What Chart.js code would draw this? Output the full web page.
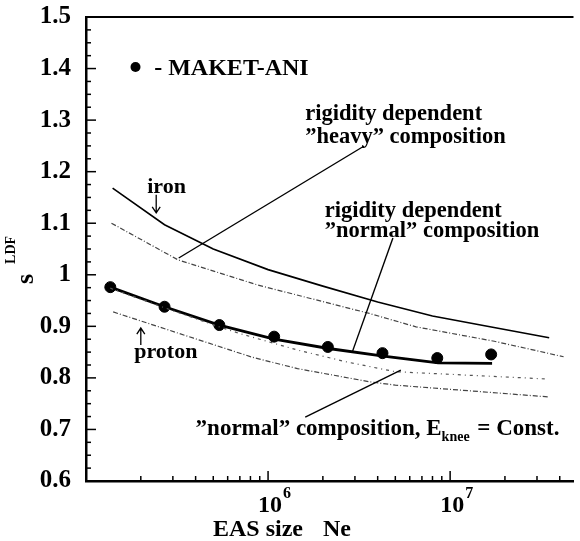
<!DOCTYPE html>
<html>
<head>
<meta charset="utf-8">
<script src="https://cdn.jsdelivr.net/npm/chart.js@4.4.0/dist/chart.umd.min.js"></script>
<style>
    body { margin: 0; background: #fff; }
    #box { width: 580px; height: 541px; }
</style>
</head>
<body>
<div id="box"><canvas id="ldfChart"></canvas></div>
<script>
// s_LDF versus EAS size, MAKET-ANI points and model curves
const maketNe = [1.36e5, 2.7e5, 5.4e5, 1.08e6, 2.13e6, 4.25e6, 8.5e6, 1.68e7];
const maketS = [0.976, 0.938, 0.9025, 0.880, 0.860, 0.848, 0.8385, 0.8455];

const ironNe = [1.4e5, 2.7e5, 5e5, 1e6, 2e6, 4e6, 8e6, 1.6e7, 3.5e7];
const ironS = [1.168, 1.097, 1.05, 1.01, 0.978, 0.947, 0.920, 0.900, 0.878];

const heavyNe = [1.38e5, 3.2e5, 8.8e5, 3.6e6, 6.5e6, 1.75e7, 4.2e7];
const heavyS = [1.10, 1.029, 0.98, 0.925, 0.899, 0.871, 0.841];

const normalNe = [1.36e5, 2.7e5, 5.4e5, 1.08e6, 2.15e6, 4.3e6, 8.6e6, 1.7e7];
const normalS = [0.976, 0.938, 0.9025, 0.8754, 0.857, 0.842, 0.829, 0.828];

const kneeNe = [1.36e5, 2.7e5, 5.4e5, 7e5, 1.45e6, 2.7e6, 5e6, 3.35e7];
const kneeS = [0.974, 0.936, 0.899, 0.886, 0.854, 0.831, 0.812, 0.798];

const protonNe = [1.41e5, 3.9e5, 8.2e5, 1.45e6, 3.6e6, 5e6, 3.5e7];
const protonS = [0.928, 0.877, 0.840, 0.818, 0.7925, 0.786, 0.763];

const xDecades = [6, 7];
const yTickStep = 0.1;

const FONT = 'Liberation Serif';

const toPoints = (xs, ys) => xs.map((x, i) => ({x: x, y: ys[i]}));

// text labels, anchored in data units (Ne, s)
const notes = [
    {text: '- MAKET-ANI', ne: 2.37e5, s: 1.3875, size: 24},
    {text: 'rigidity dependent', ne: 1.6e6, s: 1.30, size: 22.5},
    {text: '\u201Dheavy\u201D composition', ne: 1.6e6, s: 1.2556, size: 22.5},
    {text: 'rigidity dependent', ne: 2.05e6, s: 1.112, size: 22.5},
    {text: '\u201Dnormal\u201D composition', ne: 2.05e6, s: 1.0732, size: 22.5},
    {text: 'iron', ne: 2.17e5, s: 1.1586, size: 22},
    {text: 'proton', ne: 1.84e5, s: 0.8385, size: 22}
];

// leader lines from labels to curves
const leaders = [
    [3.37e6, 1.2498, 3.23e5, 1.0325],
    [4.85e6, 1.0713, 2.9e6, 0.850],
    [1.6e6, 0.724, 5.36e6, 0.815]
];

// small arrows: [ne, from s, to s] (head at "to")
const arrows = [
    [2.43e5, 1.155, 1.12],
    [2.0e5, 0.8637, 0.8967]
];

const decor = {
    id: 'decor',
    afterDraw(chart) {
        const {ctx, chartArea: area, scales: {x, y}} = chart;
        const px = v => x.getPixelForValue(v);
        const py = v => y.getPixelForValue(v);

        ctx.save();
        ctx.strokeStyle = '#000';
        ctx.fillStyle = '#000';

        // top frame line
        ctx.lineWidth = 2;
        ctx.beginPath();
        ctx.moveTo(area.left, area.top);
        ctx.lineTo(area.right, area.top);
        ctx.stroke();

        // inward ticks on the y axis
        ctx.lineWidth = 1.5;
        for (let i = 0; i <= 36; i++) {
            const yy = py(0.6 + i * 0.025);
            const len = i % 4 === 0 ? 10 : 5;
            ctx.beginPath();
            ctx.moveTo(area.left, yy);
            ctx.lineTo(area.left + len, yy);
            ctx.stroke();
        }

        // inward ticks on the log x axis
        for (let d = 5; d <= 7; d++) {
            for (let k = 1; k <= 9; k++) {
                const v = k * Math.pow(10, d);
                if (v <= x.min || v > x.max) continue;
                const xx = px(v);
                const len = k === 1 ? 10 : 5;
                ctx.beginPath();
                ctx.moveTo(xx, area.bottom);
                ctx.lineTo(xx, area.bottom - len);
                ctx.stroke();
            }
        }

        // decade labels 10^6, 10^7
        ctx.textBaseline = 'alphabetic';
        xDecades.forEach(d => {
            const xx = px(Math.pow(10, d));
            ctx.font = 'bold 24px ' + FONT;
            ctx.textAlign = 'center';
            ctx.fillText('10', xx + 2, area.bottom + 31);
            ctx.font = 'bold 16px ' + FONT;
            ctx.textAlign = 'left';
            ctx.fillText(String(d), xx + 15, area.bottom + 17);
        });

        // x axis title
        ctx.font = 'bold 24px ' + FONT;
        ctx.textAlign = 'left';
        ctx.fillText('EAS size', 213, 536);
        ctx.fillText('Ne', 323, 536);

        // y axis title, s with LDF superscript
        ctx.save();
        ctx.translate(33, 284);
        ctx.rotate(-Math.PI / 2);
        ctx.font = 'bold 26px ' + FONT;
        ctx.textAlign = 'left';
        ctx.fillText('s', 0, 0);
        const sw = ctx.measureText('s').width;
        ctx.font = 'bold 14px ' + FONT;
        ctx.fillText('LDF', sw + 10, -18);
        ctx.restore();

        // labels
        ctx.textAlign = 'left';
        notes.forEach(n => {
            ctx.font = 'bold ' + n.size + 'px ' + FONT;
            ctx.fillText(n.text, px(n.ne), py(n.s));
        });

        // "normal" composition, E_knee = Const.
        let cx = px(4.0e5);
        const cy = py(0.689);
        ctx.font = 'bold 23px ' + FONT;
        const head = '\u201Dnormal\u201D composition, E';
        ctx.fillText(head, cx, cy);
        cx += ctx.measureText(head).width;
        ctx.font = 'bold 14px ' + FONT;
        ctx.fillText('knee', cx, cy + 6);
        cx += ctx.measureText('knee').width + 2;
        ctx.font = 'bold 23px ' + FONT;
        ctx.fillText(' = Const.', cx, cy);

        // legend marker
        ctx.beginPath();
        ctx.arc(px(1.87e5), py(1.403), 5, 0, Math.PI * 2);
        ctx.fill();

        // leader lines
        ctx.lineWidth = 1.4;
        leaders.forEach(l => {
            ctx.beginPath();
            ctx.moveTo(px(l[0]), py(l[1]));
            ctx.lineTo(px(l[2]), py(l[3]));
            ctx.stroke();
        });

        // arrows
        ctx.lineWidth = 1.3;
        arrows.forEach(a => {
            const ax = px(a[0]);
            const y0 = py(a[1]);
            const y1 = py(a[2]);
            const dir = y1 > y0 ? 1 : -1;
            ctx.beginPath();
            ctx.moveTo(ax, y0);
            ctx.lineTo(ax, y1);
            ctx.moveTo(ax - 4, y1 - dir * 6);
            ctx.lineTo(ax, y1);
            ctx.lineTo(ax + 4, y1 - dir * 6);
            ctx.stroke();
        });

        ctx.restore();
    }
};

const lineSet = (label, xs, ys, color, width, dash) => ({
    label: label,
    data: toPoints(xs, ys),
    borderColor: color,
    borderWidth: width,
    borderDash: dash,
    pointRadius: 0,
    tension: 0,
    fill: false
});

new Chart(document.getElementById('ldfChart'), {
    type: 'line',
    data: {
        datasets: [
            lineSet('iron', ironNe, ironS, '#000', 1.6, []),
            lineSet('rigidity dependent "heavy" composition', heavyNe, heavyS, '#444', 1.2, [5, 2, 1, 2]),
            lineSet('"normal" composition, Eknee = Const.', kneeNe, kneeS, '#555', 1.2, [3, 4, 1, 4]),
            lineSet('proton', protonNe, protonS, '#444', 1.2, [5, 2, 1, 2]),
            lineSet('rigidity dependent "normal" composition', normalNe, normalS, '#000', 2.8, []),
            {
                label: 'MAKET-ANI',
                data: toPoints(maketNe, maketS),
                showLine: false,
                pointRadius: 5.5,
                pointBackgroundColor: '#000',
                pointBorderColor: '#000'
            }
        ]
    },
    options: {
        responsive: true,
        maintainAspectRatio: false,
        animation: false,
        devicePixelRatio: 1,
        layout: {padding: {top: 17, right: 0, left: 0, bottom: 0}},
        plugins: {legend: {display: false}, tooltip: {enabled: false}},
        scales: {
            x: {
                type: 'logarithmic',
                min: 1e5,
                max: 4.76e7,
                grid: {drawOnChartArea: false, drawTicks: false},
                border: {color: '#000', width: 2.5},
                ticks: {display: false},
                afterFit(scale) {
                    scale.height = 60;
                    scale.paddingLeft = 0;
                    scale.paddingRight = 0;
                }
            },
            y: {
                min: 0.6,
                max: 1.5,
                grid: {drawOnChartArea: false, drawTicks: false},
                border: {color: '#000', width: 2.5},
                ticks: {
                    stepSize: yTickStep,
                    padding: 15,
                    color: '#000',
                    font: {family: FONT, size: 25, weight: 'bold'},
                    callback: v => String(Number(v.toFixed(1)))
                },
                afterFit(scale) {
                    scale.width = 86;
                    scale.paddingTop = 0;
                    scale.paddingBottom = 0;
                }
            }
        }
    },
    plugins: [decor]
});
</script>
</body>
</html>
